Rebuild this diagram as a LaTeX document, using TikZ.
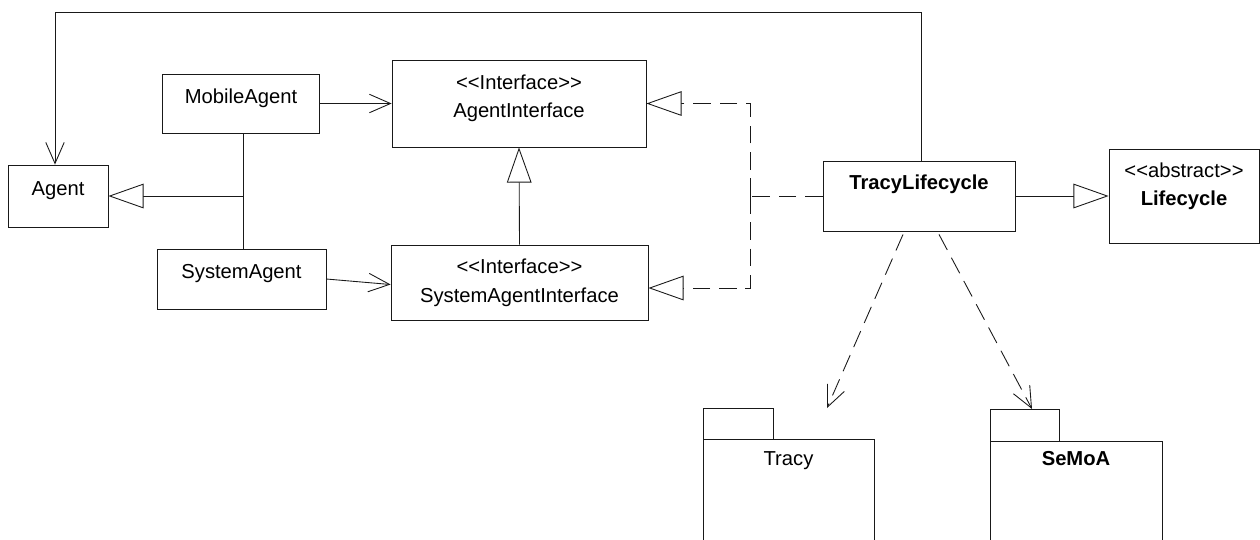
\documentclass[tikz,border=0pt]{standalone}
\usepackage{fontspec}
\setmainfont{Liberation Sans}
\usetikzlibrary{arrows.meta,calc}
\def\umlfont{\fontsize{11.5}{14}\selectfont}
\colorlet{uml line}{black!90}
\tikzset{umlbox/.style={draw=uml line, line width=0.5pt, inner sep=0pt},
    umltext/.style={inner sep=0pt, anchor=base, font=\umlfont},
    umlbold/.style={umltext, font=\umlfont\bfseries},
    plain/.style={draw=uml line, line width=0.5pt},
    assoc/.style={plain, -{Straight Barb[length=12pt,width=10.5pt]}},
    inherit/.style={plain, -{Triangle[open,length=20pt,width=14pt,fill=white]}},
    realize/.style={inherit, dash pattern=on 10pt off 5pt},
    depend/.style={assoc, dash pattern=on 10pt off 5pt}}

\begin{document}
\begin{tikzpicture}[x=0.02cm, y=-0.02cm]
    \path[use as bounding box, clip] (0,0) rectangle (1260,539);
    % classes
    \node[umlbox, minimum width=2cm, minimum height=1.24cm] (agent) at (58,196) {};
    \node[umlbox, minimum width=3.14cm, minimum height=1.18cm] (mobile) at (240.5,103.5) {};
    \node[umlbox, minimum width=3.38cm, minimum height=1.2cm] (system) at (241.5,279) {};
    \node[umlbox, minimum width=5.08cm, minimum height=1.74cm] (agentif) at (519,103.5) {};
    \node[umlbox, minimum width=5.14cm, minimum height=1.5cm] (systemif) at (519.5,282.5) {};
    \node[umlbox, minimum width=3.84cm, minimum height=1.4cm] (tracylc) at (919,196) {};
    \node[umlbox, minimum width=3cm, minimum height=1.88cm] (lifecycle) at (1184,196) {};
    % packages
    \node[umlbox, minimum width=1.4cm, minimum height=0.62cm] (tracytab) at (738,423.5) {};
    \node[umlbox, minimum width=3.42cm, minimum height=3.22cm] (tracy) at (788.5,519.5) {};
    \node[umlbox, minimum width=1.38cm, minimum height=0.64cm] (semoatab) at (1024.5,425) {};
    \node[umlbox, minimum width=3.44cm, minimum height=3.18cm] (semoa) at (1076,520.5) {};
    % texts
    \node[umltext] (agent-t) at (58,195) {Agent};
    \node[umltext] (mobile-t) at (241,103) {MobileAgent};
    \node[umltext] (system-t) at (241.5,278) {SystemAgent};
    \node[umltext] (agentif-s) at (519,89) {<{}<Interface>{}>};
    \node[umltext] (agentif-t) at (519,117) {AgentInterface};
    \node[umltext] (systemif-s) at (519.5,273) {<{}<Interface>{}>};
    \node[umltext] (systemif-t) at (519.5,302) {SystemAgentInterface};
    \node[umlbold] (tracylc-t) at (919,189) {TracyLifecycle};
    \node[umltext] (lifecycle-s) at (1184,177) {<{}<abstract>{}>};
    \node[umlbold] (lifecycle-t) at (1184,205) {Lifecycle};
    \node[umltext] (tracy-t) at (788.5,465) {Tracy};
    \node[umlbold] (semoa-t) at (1076,465) {SeMoA};
    % connectors
    \coordinate (bend) at (55,12);
    \draw[assoc] ($(tracylc.north)+(2,0)$) |- (bend) -- (bend |- agent.north);
    \draw[plain] (mobile.south -| 243,0) -- (system.north -| 243,0);
    \draw[inherit] (agent.east -| 243,0) -- (agent.east);
    \draw[assoc] (mobile.east) -- (mobile.east -| agentif.west);
    \draw[assoc] (system.east) -- ($(systemif.west)+(0,2)$);
    \draw[inherit] (systemif.north) -- (agentif.south);
    \coordinate (rj) at (750,196);
    \coordinate (rb) at (750,288);
    \draw[realize, -] (tracylc.west) -- (rj);
    \draw[realize] (rj) |- (agentif.east);
    \draw[realize] (rj) -- (rb) -- (rb -| systemif.east);
    \draw[inherit] (tracylc.east) -- (lifecycle.west);
    \coordinate (tracy-in) at (827,408);
    \coordinate (semoa-in) at (1032,409);
    \draw[depend] ($(tracylc.south)+(-16,3)$) -- (tracy-in);
    \draw[depend] ($(tracylc.south)+(20,3)$) -- (semoa-in);
\end{tikzpicture}
\end{document}
